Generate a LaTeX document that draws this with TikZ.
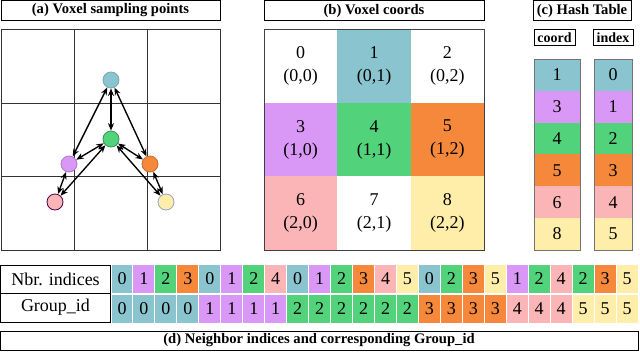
\documentclass[tikz,border=0pt]{standalone}
\usepackage{fontspec}
\setmainfont{Liberation Serif}
\usetikzlibrary{arrows.meta}
\definecolor{c0}{RGB}{138,197,207}
\definecolor{c1}{RGB}{218,152,246}
\definecolor{c2}{RGB}{82,210,122}
\definecolor{c3}{RGB}{245,136,58}
\definecolor{c4}{RGB}{251,181,183}
\definecolor{c5}{RGB}{255,238,170}
\definecolor{cw}{RGB}{255,255,255}
\begin{document}
\begin{tikzpicture}[x=1pt,y=-1pt,
  titlebox/.style={draw=black,line width=0.8pt,inner sep=0pt,font=\fontsize{14.6}{16}\bfseries\selectfont},
  gridline/.style={draw=black!80,line width=0.9pt},
  dot/.style={circle,minimum size=16pt,inner sep=0pt,line width=0.8pt},
  dbl/.style={line width=1.35pt,{Stealth[length=7.5pt,width=6pt]}-{Stealth[length=7.5pt,width=6pt]}},
  vcell/.style={minimum width=73.33pt,minimum height=73.67pt,inner sep=0pt,align=center,font=\fontsize{18}{23}\selectfont},
  hcell/.style={minimum height=31.83pt,inner sep=0pt,font=\fontsize{18}{21}\selectfont},
  lblbox/.style={draw=black,line width=0.8pt,inner sep=0pt,minimum width=110pt,font=\fontsize{18}{21}\selectfont},
  seqcell/.style={draw=white,line width=1pt,inner sep=0pt,minimum width=21.96pt,font=\fontsize{18}{21}\selectfont}
]
\useasboundingbox (0,0) rectangle (640,351);
\fill[white] (0,0) rectangle (640,351);

% (a)
\node[titlebox,minimum width=219pt,minimum height=20pt] (ta) at (110.5,10.5) {(a) Voxel sampling points};
\draw[gridline] (1,29) rectangle (220,250);
\draw[gridline] (74,29) -- (74,250) (147,29) -- (147,250) (1,103) -- (220,103) (1,176) -- (220,176);
\node[dot,fill=c0,draw=c0!85!black] (p1) at (111,80) {};
\node[dot,fill=c2,draw=c2!70!black] (p4) at (111,139) {};
\node[dot,fill=c1,draw=c1!80!black] (p3) at (69,164) {};
\node[dot,fill=c3,draw=c3!80!black] (p5) at (150,164) {};
\node[dot,fill=c4,draw=violet!60!black] (p6) at (55,202) {};
\node[dot,fill=c5,draw=blue!25!gray!60] (p8) at (166,202) {};
\draw[dbl] (p1) -- (p4);
\draw[dbl] (p1) -- (p3);
\draw[dbl] (p1) -- (p5);
\draw[dbl] (p4) -- (p3);
\draw[dbl] (p4) -- (p5);
\draw[dbl] (p4) -- (p6);
\draw[dbl] (p4) -- (p8);
\draw[dbl] (p3) -- (p6);
\draw[dbl] (p5) -- (p8);

% (b)
\node[titlebox,minimum width=220pt,minimum height=20pt] (tb) at (374,10.5) {(b) Voxel coords};
\node[vcell,fill=cw] (b0) at (300.67,65.83) {0\\(0,0)};
\node[vcell,fill=c0] (b1) at (374,65.83) {1\\(0,1)};
\node[vcell,fill=cw] (b2) at (447.33,65.83) {2\\(0,2)};
\node[vcell,fill=c1] (b3) at (300.67,139.5) {3\\(1,0)};
\node[vcell,fill=c2] (b4) at (374,139.5) {4\\(1,1)};
\node[vcell,fill=c3] (b5) at (447.33,139.5) {5\\(1,2)};
\node[vcell,fill=c4] (b6) at (300.67,213.17) {6\\(2,0)};
\node[vcell,fill=cw] (b7) at (374,213.17) {7\\(2,1)};
\node[vcell,fill=c5] (b8) at (447.33,213.17) {8\\(2,2)};
\draw[draw=black!75,line width=0.9pt] (264,29) rectangle (484,250);

% (c)
\node[titlebox,minimum width=98pt,minimum height=20pt] (tc) at (582,10.5) {(c) Hash Table};
\node[titlebox,minimum width=41pt,minimum height=16pt,font=\fontsize{14}{15}\bfseries\selectfont] (hc) at (554.5,37.5) {coord};
\node[titlebox,minimum width=40pt,minimum height=16pt,font=\fontsize{14}{15}\bfseries\selectfont] (hi) at (613,37.5) {index};
\foreach \v/\c [count=\i from 0] in {1/c0,3/c1,4/c2,5/c3,6/c4,8/c5} {
  \node[hcell,minimum width=46pt,fill=\c] (k\i) at (557,{59+31.83*(\i+0.5)}) {\v};
  \node[hcell,minimum width=38pt,fill=\c] (x\i) at (613,{59+31.83*(\i+0.5)}) {\i};
}
\draw[draw=black!55,line width=0.7pt] (534,59) rectangle (580,250);
\draw[draw=black!55,line width=0.7pt] (594,59) rectangle (632,250);

% (d)
\node[lblbox,minimum height=28pt] (nbr) at (55.5,279) {Nbr. indices};
\node[lblbox,minimum height=29pt] (gid) at (55.5,307.5) {Group\_id};
\foreach \v [count=\i from 0] in {0,1,2,3,0,1,2,4,0,1,2,3,4,5,0,2,3,5,1,2,4,2,3,5} {
  \node[seqcell,minimum height=29pt,fill=c\v] (n\i) at ({122+21.96*\i},279) {\v};
}
\foreach \v [count=\i from 0] in {0,0,0,0,1,1,1,1,2,2,2,2,2,2,3,3,3,3,4,4,4,5,5,5} {
  \node[seqcell,minimum height=29pt,fill=c\v] (g\i) at ({122+21.96*\i},308.5) {\v};
}
\node[titlebox,minimum width=638pt,minimum height=19pt] (td) at (319,340.5) {(d) Neighbor indices and corresponding Group\_id};
\end{tikzpicture}
\end{document}
